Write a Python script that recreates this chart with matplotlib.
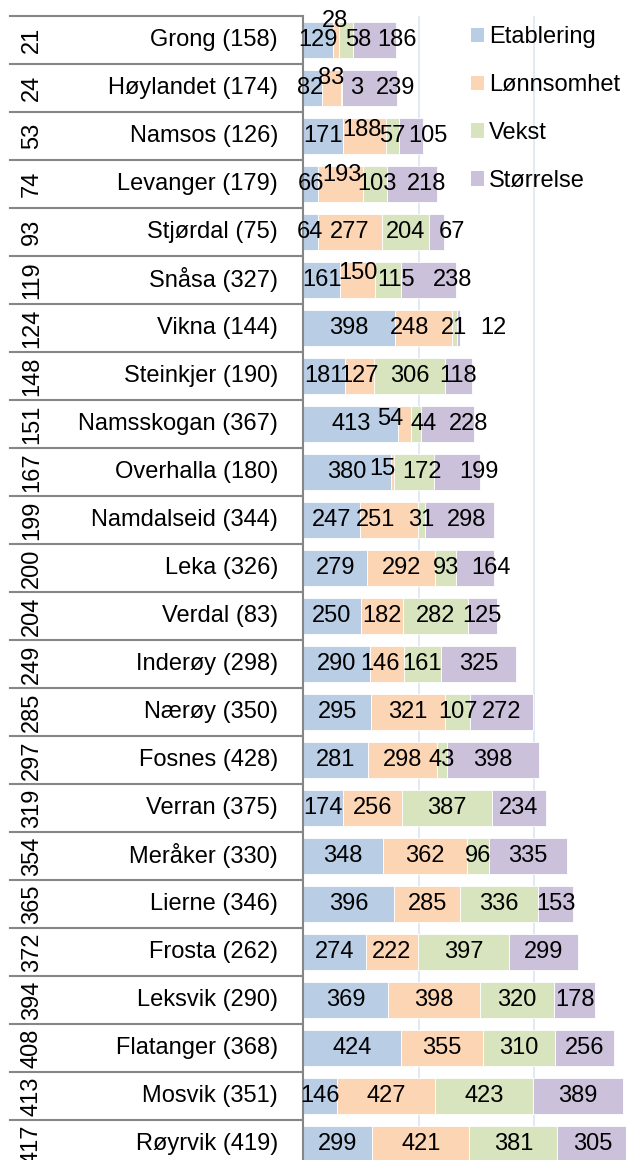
import matplotlib
matplotlib.use("Agg")
import matplotlib.pyplot as plt
import matplotlib.transforms as mtransforms
from matplotlib.patches import Patch
from matplotlib.lines import Line2D
import numpy as np

# ------------------------------------------------------------
# Data
# ------------------------------------------------------------

kommuner = ["Grong", "Høylandet", "Namsos", "Levanger", "Stjørdal", "Snåsa",
            "Vikna", "Steinkjer", "Namsskogan", "Overhalla", "Namdalseid",
            "Leka", "Verdal", "Inderøy", "Nærøy", "Fosnes", "Verran",
            "Meråker", "Lierne", "Frosta", "Leksvik", "Flatanger", "Mosvik",
            "Røyrvik"]
antall = [158, 174, 126, 179, 75, 327, 144, 190, 367, 180, 344, 326, 83,
          298, 350, 428, 375, 330, 346, 262, 290, 368, 351, 419]
plassering = [21, 24, 53, 74, 93, 119, 124, 148, 151, 167, 199, 200, 204,
              249, 285, 297, 319, 354, 365, 372, 394, 408, 413, 417]

etablering = [129, 82, 171, 66, 64, 161, 398, 181, 413, 380, 247, 279, 250,
              290, 295, 281, 174, 348, 396, 274, 369, 424, 146, 299]
lonnsomhet = [28, 83, 188, 193, 277, 150, 248, 127, 54, 15, 251, 292, 182,
              146, 321, 298, 256, 362, 285, 222, 398, 355, 427, 421]
vekst = [58, 3, 57, 103, 204, 115, 21, 306, 44, 172, 31, 93, 282, 161, 107,
         43, 387, 96, 336, 397, 320, 310, 423, 381]
storrelse = [186, 239, 105, 218, 67, 238, 12, 118, 228, 199, 298, 164, 125,
             325, 272, 398, 234, 335, 153, 299, 178, 256, 389, 305]

serier = ["Etablering", "Lønnsomhet", "Vekst", "Størrelse"]
farger = ["#B9CDE5", "#FCD5B5", "#D7E4BD", "#CCC1DA"]

# label nudges (pixels right, pixels up) for crowded segments
nudge = {
    (0, 1): (-1, 19), (0, 2): (12, 0), (0, 3): (23, 0),
    (1, 0): (-2, 0), (1, 1): (0, 10), (1, 2): (15, 0), (1, 3): (26, 0),
    (2, 1): (-2, 6), (2, 3): (17, 0),
    (3, 1): (1, 9), (3, 2): (2, 0), (3, 3): (15, 0),
    (4, 3): (15, 0),
    (5, 1): (0, 7), (5, 2): (8, 0), (5, 3): (24, 0),
    (6, 1): (-14, 0), (6, 2): (-1, 0), (6, 3): (35, 0),
    (8, 1): (-14, 5), (8, 2): (8, 0), (8, 3): (21, 0),
    (9, 1): (-10, 3), (9, 2): (8, 0), (9, 3): (22, 0),
    (10, 1): (-14, 0), (10, 3): (7, 0),
    (11, 3): (16, 0),
    (13, 1): (-7, 0),
}

# ------------------------------------------------------------
# Figure
# ------------------------------------------------------------

plt.rcParams["font.family"] = ["Liberation Sans", "DejaVu Sans"]
FS = 17

W, H = 626, 1160
fig = plt.figure(figsize=(W / 100, H / 100), dpi=100)

top_px, row_px = 16, 48
n = len(kommuner)
ax = fig.add_axes([303 / W, 1 - (top_px + n * row_px) / H,
                   323 / W, n * row_px / H])

y = np.arange(n)
verdier = [etablering, lonnsomhet, vekst, storrelse]
left = np.zeros(n)

for s, (vals, farge) in enumerate(zip(verdier, farger)):
    vals = np.asarray(vals, dtype=float)
    ax.barh(y, vals, left=left, height=0.76, color=farge,
            edgecolor="white", linewidth=0.6, zorder=2)
    for i in range(n):
        dx, dy = nudge.get((i, s), (0, 0))
        ax.annotate(str(int(vals[i])), (left[i] + vals[i] / 2, y[i]),
                    xytext=(dx, dy), textcoords="offset pixels",
                    ha="center", va="center", fontsize=FS,
                    annotation_clip=False, zorder=4)
    left += vals

ax.set_xlim(0, 1398)
ax.set_ylim(n - 0.5, -0.5)
ax.set_xticks([500, 1000])
ax.xaxis.grid(True, color="#DCE6F2", lw=1.2)
ax.set_axisbelow(True)
ax.tick_params(length=0, labelbottom=False, labelleft=False)
for side in ["top", "right", "bottom"]:
    ax.spines[side].set_visible(False)
ax.spines["left"].set_color("#868686")
ax.spines["left"].set_linewidth(1.5)

# ------------------------------------------------------------
# Category table on the left
# ------------------------------------------------------------

trans = mtransforms.blended_transform_factory(fig.transFigure, ax.transData)

for k in range(n + 1):
    ax.add_line(Line2D([10 / W, 303 / W], [k - 0.5, k - 0.5],
                       transform=trans, color="#868686", lw=1.5,
                       clip_on=False))

for i in range(n):
    ax.text(278 / W, y[i], f"{kommuner[i]} ({antall[i]})", transform=trans,
            ha="right", va="center", fontsize=FS)
    ax.text(32 / W, y[i], str(plassering[i]), transform=trans,
            ha="center", va="center", rotation=90, fontsize=FS)

# ------------------------------------------------------------
# Legend
# ------------------------------------------------------------

handles = [Patch(facecolor=c, edgecolor="none") for c in farger]
fig.legend(handles, serier, loc="upper left",
           bbox_to_anchor=(471 / W, 1 - 26 / H), frameon=False,
           fontsize=FS, handlelength=0.55, handleheight=0.55,
           handletextpad=0.2, labelspacing=1.1, borderpad=0,
           borderaxespad=0)

fig.savefig("out.png", dpi=100)
